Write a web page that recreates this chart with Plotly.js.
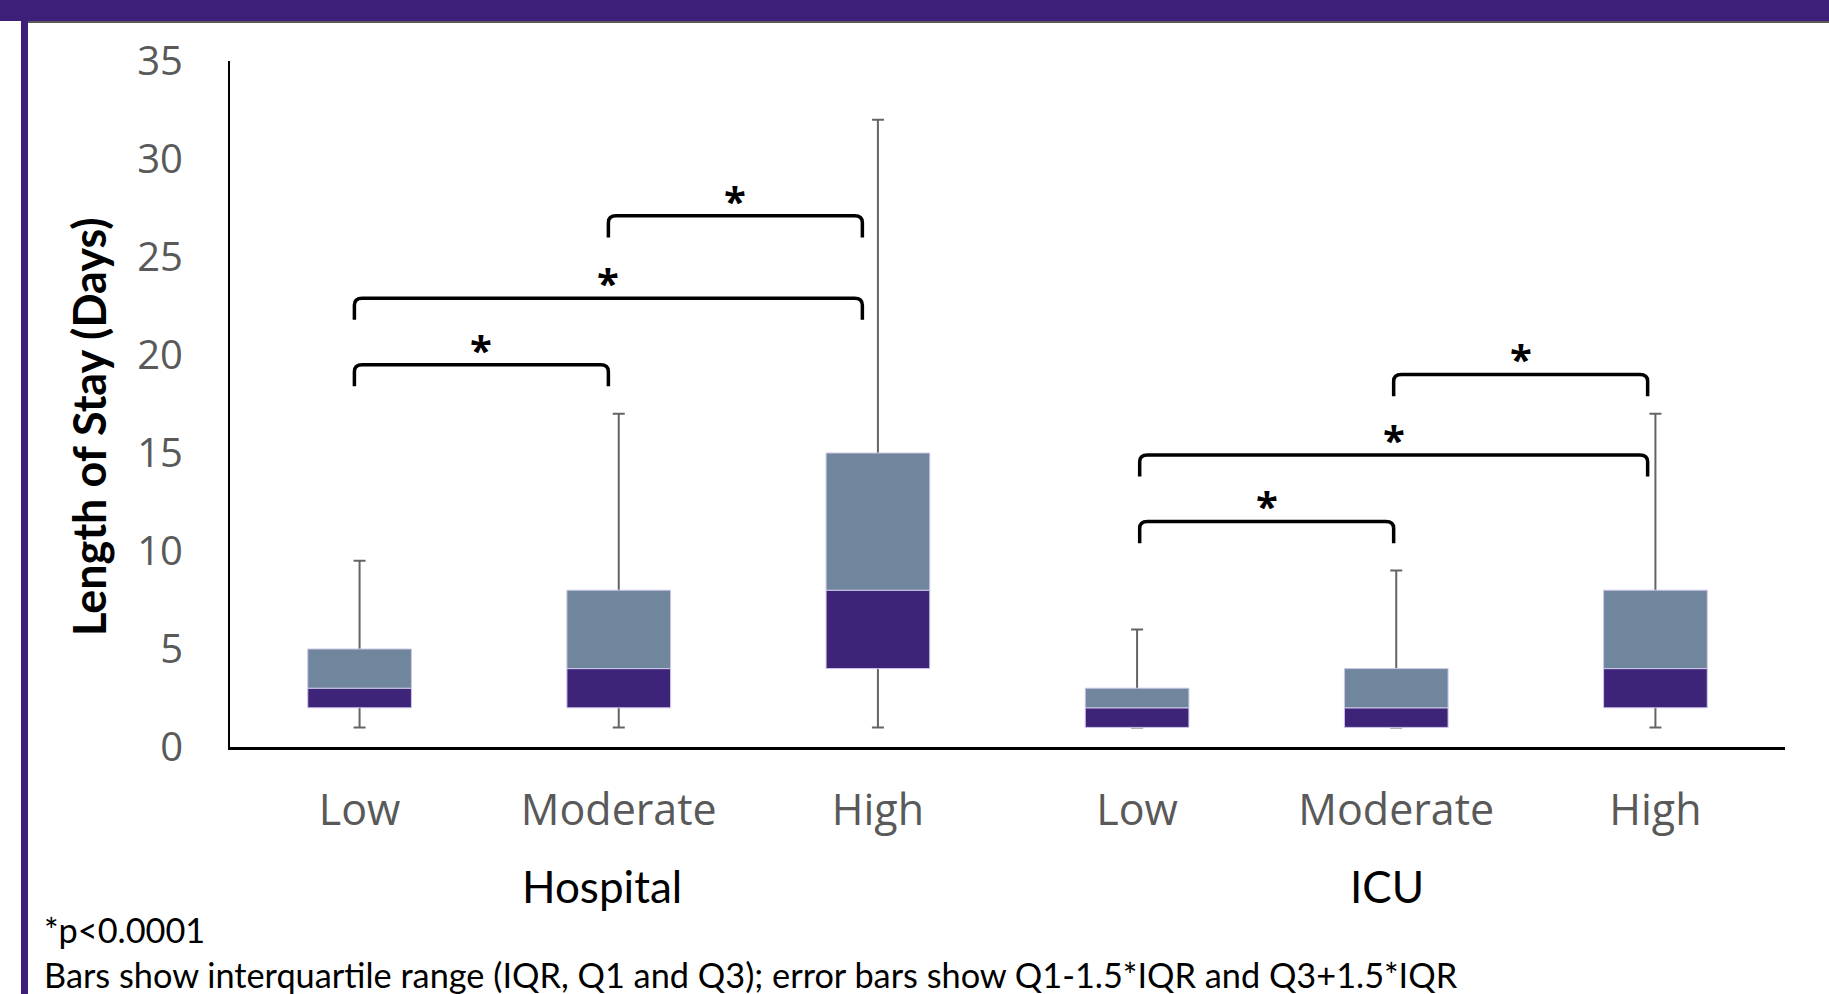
<!DOCTYPE html>
<html>
<head>
<meta charset="utf-8">
<script src="https://cdn.plot.ly/plotly-3.0.1.min.js"></script>
<style>
  html, body { margin: 0; padding: 0; background: #ffffff; }
  #chart { width: 1829px; height: 994px; }
</style>
</head>
<body>
<div id="chart"></div>
<script>
// ---- Data ----
const categories = ['Low', 'Moderate', 'High', 'Low', 'Moderate', 'High'];
const groupNames = ['Hospital', 'ICU'];
const groupLabelX = [0.935, 3.966];
const whiskerLow  = [1, 1, 1, 1, 1, 1];
const q1          = [2, 2, 4, 1, 1, 2];
const median      = [3, 4, 8, 2, 2, 4];
const q3          = [5, 8, 15, 3, 4, 8];
const whiskerHigh = [9.5, 17, 32, 6, 9, 17];
const yTicks = [0, 5, 10, 15, 20, 25, 30, 35];

// significance brackets: [left end, right end, level]
const bracketFrom  = [-0.02, -0.02, 0.96, 3.01, 3.01, 3.99];
const bracketTo    = [0.96, 1.94, 1.94, 3.99, 4.97, 4.97];
const bracketLevel = [19.5, 22.9, 27.1, 11.5, 14.9, 19.0];
const starText = '*';
const noteLines = ['*p<0.0001',
  'Bars show interquartile range (IQR, Q1 and Q3); error bars show Q1-1.5*IQR and Q3+1.5*IQR'];

// ---- Layout geometry ----
const W = 1829, H = 994;
const M = { l: 230, r: 44, t: 61, b: 247 };
const plotW = W - M.l - M.r, plotH = H - M.t - M.b;
const pxX = px => (px - M.l) / plotW;
const pxY = py => (H - M.b - py) / plotH;

const xPos = categories.map((_, i) => i);
const DARK = '#3D2479';
const SLATE = '#6F869D';
const EDGE = 'rgba(205,198,232,1)';

const traces = [
  { // whiskers (drawn first, covered by the boxes)
    type: 'bar', x: xPos, base: whiskerLow,
    y: whiskerHigh.map((h, i) => h - whiskerLow[i]),
    width: 0.4, marker: { color: 'rgba(0,0,0,0)', line: { width: 0 } },
    error_y: { type: 'data', symmetric: false,
      array: whiskerHigh.map(() => 0),
      arrayminus: whiskerHigh.map((h, i) => h - whiskerLow[i]),
      color: '#646464', thickness: 2, width: 6 },
    hoverinfo: 'skip', showlegend: false
  },
  { // Q1 -> median
    type: 'bar', x: xPos, base: q1,
    y: median.map((m, i) => m - q1[i]),
    width: 0.4, marker: { color: DARK, line: { color: EDGE, width: 1 } },
    showlegend: false
  },
  { // median -> Q3
    type: 'bar', x: xPos, base: median,
    y: q3.map((v, i) => v - median[i]),
    width: 0.4, marker: { color: SLATE, line: { color: EDGE, width: 1 } },
    showlegend: false
  }
];

const shapes = [];
const annotations = [];
const legH = 1.1, corner = 0.03, cornerY = 0.35;
bracketFrom.forEach((a, i) => {
  const b = bracketTo[i], lv = bracketLevel[i], lo = lv - legH;
  shapes.push({
    type: 'path', xref: 'x', yref: 'y',
    path: `M ${a},${lo} L ${a},${lv - cornerY} Q ${a},${lv} ${a + corner},${lv} ` +
          `L ${b - corner},${lv} Q ${b},${lv} ${b},${lv - cornerY} L ${b},${lo}`,
    line: { color: '#000000', width: 3.5 }
  });
  annotations.push({
    xref: 'x', yref: 'y', x: (a + b) / 2, y: lv + 0.9, text: '<b>' + starText + '</b>',
    showarrow: false, xanchor: 'center', yanchor: 'middle',
    font: { family: '"Open Sans", sans-serif', size: 40, color: '#000000' }, yshift: -2
  });
});

groupNames.forEach((g, i) => {
  annotations.push({
    xref: 'x', yref: 'paper', x: groupLabelX[i], y: pxY(886), text: g,
    showarrow: false, xanchor: 'center', yanchor: 'middle',
    font: { family: 'Lato, sans-serif', size: 44, color: '#000000' }
  });
});

annotations.push({
  xref: 'paper', yref: 'paper', x: pxX(89), y: pxY(427),
  text: '<b>Length of Stay (Days)</b>', textangle: -90, showarrow: false,
  xanchor: 'center', yanchor: 'middle',
  font: { family: 'Lato, sans-serif', size: 45, color: '#000000' }
});

noteLines.forEach((t, i) => {
  annotations.push({
    xref: 'paper', yref: 'paper', x: pxX(42), y: pxY([929, 974][i]),
    text: t, showarrow: false, xanchor: 'left', yanchor: 'middle',
    font: { family: 'Lato, sans-serif', size: 34.3, color: '#000000' }
  });
});

// frame: purple top band, thin dark rule, left border
shapes.push({ type: 'rect', xref: 'paper', yref: 'paper', layer: 'below',
  x0: pxX(-5), x1: pxX(W + 5), y0: pxY(21), y1: pxY(-5),
  fillcolor: '#3D1E78', line: { width: 0 } });
shapes.push({ type: 'line', xref: 'paper', yref: 'paper',
  x0: pxX(28), x1: pxX(W + 5), y0: pxY(22), y1: pxY(22),
  line: { color: '#222222', width: 1.5 } });
shapes.push({ type: 'rect', xref: 'paper', yref: 'paper', layer: 'below',
  x0: pxX(21), x1: pxX(28), y0: pxY(H + 5), y1: pxY(-5),
  fillcolor: '#3D1E78', line: { width: 0 } });

const layout = {
  width: W, height: H,
  margin: M,
  paper_bgcolor: '#ffffff', plot_bgcolor: '#ffffff',
  barmode: 'overlay',
  showlegend: false,
  xaxis: {
    range: [-0.5, 5.5], tickmode: 'array', tickvals: xPos, ticktext: categories,
    showline: true, linecolor: '#000000', linewidth: 3,
    showgrid: false, zeroline: false, ticks: '',
    tickfont: { family: '"Open Sans", sans-serif', size: 43, color: '#595959' },
    ticklabelstandoff: 23, fixedrange: true
  },
  yaxis: {
    range: [0, 35], tickmode: 'array', tickvals: yTicks,
    showline: true, linecolor: '#000000', linewidth: 2,
    showgrid: false, zeroline: false, ticks: '',
    tickfont: { family: '"Open Sans", sans-serif', size: 40, color: '#595959' },
    ticklabelstandoff: 37, fixedrange: true
  },
  shapes: shapes,
  annotations: annotations
};

Plotly.newPlot('chart', traces, layout, { displayModeBar: false, staticPlot: true });
</script>
</body>
</html>
